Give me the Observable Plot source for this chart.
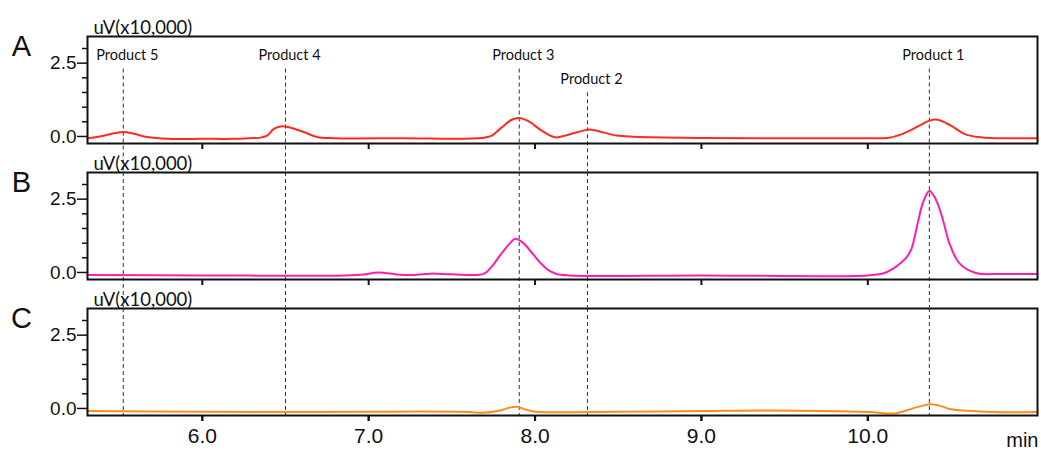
<!DOCTYPE html>
<html>
<head>
<meta charset="utf-8">
<script src="https://cdn.jsdelivr.net/npm/d3@7"></script>
<script src="https://cdn.jsdelivr.net/npm/@observablehq/plot@0.6"></script>
<style>
  html, body { margin: 0; padding: 0; background: #fff; }
</style>
</head>
<body>
<div id="chart"></div>
<script>
// ---- data ----
const panels = ["A", "B", "C"];

const timeA  = [5.31, 5.39, 5.47, 5.525, 5.59, 5.67, 5.79, 6.00, 6.19, 6.31, 6.35, 6.39, 6.43, 6.48, 6.53, 6.61, 6.69, 6.79, 7.20, 7.68, 7.74, 7.80, 7.86, 7.905, 7.96, 8.04, 8.12, 8.20, 8.29, 8.33, 8.41, 8.49, 8.59, 9.00, 9.50, 10.00, 10.12, 10.21, 10.31, 10.37, 10.42, 10.50, 10.58, 10.66, 10.79, 11.02];
const valueA = [-0.06, 0.01, 0.11, 0.15, 0.09, -0.02, -0.08, -0.08, -0.08, -0.05, -0.04, 0.03, 0.26, 0.35, 0.30, 0.15, -0.02, -0.06, -0.06, -0.05, 0.03, 0.31, 0.57, 0.63, 0.52, 0.20, -0.03, 0.06, 0.20, 0.24, 0.14, 0.03, -0.01, -0.05, -0.06, -0.06, -0.05, 0.09, 0.37, 0.54, 0.57, 0.37, 0.09, -0.02, -0.06, -0.06];

const timeB  = [5.31, 6.00, 6.80, 6.95, 7.06, 7.17, 7.25, 7.37, 7.50, 7.69, 7.74, 7.80, 7.85, 7.88, 7.93, 7.98, 8.04, 8.08, 8.13, 8.20, 9.00, 10.00, 10.10, 10.17, 10.23, 10.26, 10.30, 10.33, 10.37, 10.40, 10.44, 10.47, 10.49, 10.55, 10.65, 10.80, 11.02];
const valueB = [-0.09, -0.10, -0.11, -0.08, 0.00, -0.07, -0.09, -0.04, -0.06, -0.05, 0.20, 0.66, 1.00, 1.15, 1.00, 0.68, 0.28, 0.08, -0.05, -0.10, -0.10, -0.10, -0.02, 0.20, 0.50, 0.77, 1.68, 2.36, 2.78, 2.59, 2.02, 1.40, 1.00, 0.32, -0.02, -0.05, -0.05];

const timeC  = [5.31, 6.00, 6.50, 7.00, 7.60, 7.68, 7.79, 7.84, 7.89, 7.94, 8.00, 8.08, 8.50, 9.00, 9.40, 10.00, 10.16, 10.24, 10.32, 10.38, 10.44, 10.50, 10.60, 10.80, 11.02];
const valueC = [-0.09, -0.11, -0.12, -0.11, -0.12, -0.15, -0.07, 0.02, 0.06, -0.03, -0.11, -0.13, -0.11, -0.09, -0.07, -0.12, -0.17, -0.05, 0.08, 0.14, 0.08, -0.03, -0.08, -0.13, -0.12];

const productNames = ["Product 5", "Product 4", "Product 3", "Product 2", "Product 1"];
const productTimes = [5.525, 6.50, 7.905, 8.315, 10.37];

const xTicks = [6, 7, 8, 9, 10];
const yMajorTicks = [0, 2.5];
const yMinorTicks = [0.5, 1, 1.5, 2, 3];
const yLabel = "uV(x10,000)";
const xLabel = "min";

// ---- tables for the library ----
const traces = [
  ...timeA.map((t, i) => ({panel: "A", t, v: valueA[i]})),
  ...timeB.map((t, i) => ({panel: "B", t, v: valueB[i]})),
  ...timeC.map((t, i) => ({panel: "C", t, v: valueC[i]}))
];
const products = productNames.map((name, i) => ({name, t: productTimes[i]}));
const ruleRows = panels.flatMap(panel => products.map(p => ({...p, panel})));

// ---- layout ----
const W = 1041, H = 450, mT = 35, mB = 33, mL = 87, mR = 4;
const pad = 0.21;
const yTop = 3.41, yBot = -0.24;
const inner = H - mT - mB;
const step = inner / (panels.length - pad);
const bandPx = step * (1 - pad), gapPx = step * pad;
const gapU = gapPx / (bandPx / (yTop - yBot));
const labelY = name => name === "Product 2" ? 1.96 : 2.77;

const chart = Plot.plot({
  width: W, height: H,
  marginTop: mT, marginBottom: mB, marginLeft: mL, marginRight: mR,
  x: {domain: [5.31, 11.02]},
  y: {domain: [yBot, yTop]},
  fy: {domain: panels, axis: null, paddingInner: pad, paddingOuter: 0},
  color: {domain: panels, range: ["#ff2b1e", "#ff1eae", "#ff8a1e"]},
  style: {fontFamily: "Liberation Sans, Arial, sans-serif", fontSize: "19px", color: "#111", background: "#fff", overflow: "visible"},
  marks: [
    Plot.ruleX(ruleRows, {
      x: "t", fy: "panel",
      y1: d => d.panel === "A" ? labelY(d.name) - 0.47 : yTop,
      y2: d => d.panel === "C" ? yBot : yBot - gapU,
      stroke: "#333", strokeWidth: 1, strokeDasharray: "4,3"
    }),
    Plot.line(traces, {x: "t", y: "v", fy: "panel", z: "panel", stroke: "panel", strokeWidth: 2, curve: "catmull-rom"}),
    Plot.frame({stroke: "#111", strokeWidth: 2}),
    Plot.axisY({ticks: yMajorTicks, tickSize: 10, tickPadding: 1, tickFormat: d3.format(".1f"), label: null, fontSize: 19, stroke: "#111", strokeWidth: 1.5}),
    Plot.axisY({ticks: yMinorTicks, tickSize: 5, tickPadding: 2, tickFormat: () => "", label: null, stroke: "#111", strokeWidth: 1.5}),
    Plot.axisX({ticks: xTicks, facetAnchor: null, tickSize: 6, tickFormat: () => "", label: null, stroke: "#111", strokeWidth: 2}),
    Plot.axisX({ticks: xTicks, tickSize: 6, tickPadding: 7, tickFormat: d3.format(".1f"), label: null, fontSize: 21, stroke: "#111", strokeWidth: 2}),
    Plot.text([xLabel], {fy: () => "C", frameAnchor: "bottom-right", text: d => d, dx: 1, dy: 25, textAnchor: "end", lineAnchor: "middle", fontSize: 20, fill: "#111"}),
    Plot.text(panels, {fy: d => d, text: () => yLabel, frameAnchor: "top-left", dx: 6, dy: -3, lineAnchor: "bottom", fontFamily: "Lato", fontSize: 18.5, fill: "#111"}),
    Plot.text(panels, {fy: d => d, text: d => d, frameAnchor: "top-left", dx: -66, dy: 10, textAnchor: "middle", lineAnchor: "middle", fontSize: 29, fill: "#111"}),
    Plot.text(products, {fy: () => "A", x: "t", y: d => labelY(d.name), text: "name", dx: 4, fontFamily: "Lato", fontSize: 14.5, fill: "#111"})
  ]
});
document.getElementById("chart").appendChild(chart);
</script>
</body>
</html>
